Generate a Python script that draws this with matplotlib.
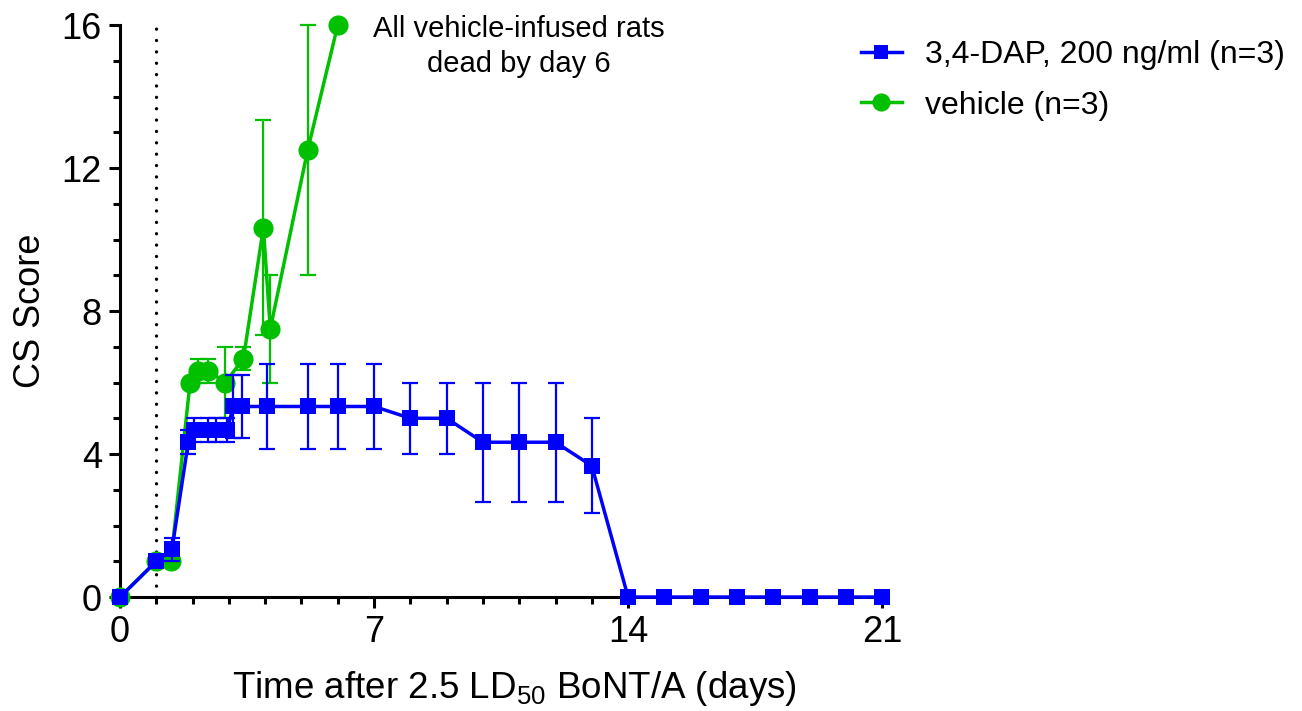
import matplotlib
matplotlib.use("Agg")
import matplotlib.pyplot as plt
import matplotlib.ticker as mticker
import numpy as np

plt.rcParams.update({
    "font.family": ["Liberation Sans", "DejaVu Sans"],
    "mathtext.fontset": "custom",
    "mathtext.rm": "Liberation Sans",
    "mathtext.it": "Liberation Sans:italic",
    "axes.linewidth": 2.2,
})

BLUE = "#0000ff"
GREEN = "#00c000"

# ── Data: CS score per group (mean ± error) ──────────────────────────────────
dap_days = [0, 1.0, 1.43, 1.88, 2.03, 2.43, 2.65, 2.95, 3.12, 3.37, 4.06, 5.17,
            6, 7, 8, 9, 10, 11, 12, 13, 14, 15, 16, 17, 18, 19, 20, 21]
dap_score = [0, 1.0, 1.33, 4.33, 4.67, 4.67, 4.67, 4.67, 5.33, 5.33, 5.33, 5.33,
             5.33, 5.33, 5.0, 5.0, 4.33, 4.33, 4.33, 3.67, 0, 0, 0, 0, 0, 0, 0, 0]
dap_err = [0, 0, 0.33, 0.33, 0.33, 0.33, 0.33, 0.33, 0.88, 0.88, 1.2, 1.2,
           1.2, 1.2, 1.0, 1.0, 1.67, 1.67, 1.67, 1.33, 0, 0, 0, 0, 0, 0, 0, 0]

veh_days = [0, 1.0, 1.4, 1.93, 2.15, 2.43, 2.9, 3.4, 3.95, 4.14, 5.17, 6.0]
veh_score = [0, 1.0, 1.0, 6.0, 6.33, 6.33, 6.0, 6.67, 10.33, 7.5, 12.5, 16.0]
veh_err = [0, 0, 0, 0, 0.33, 0.33, 1.0, 0.33, 3.0, 1.5, 3.5, 0]

dap_label = "3,4-DAP, 200 ng/ml (n=3)"
veh_label = "vehicle (n=3)"

fig = plt.figure(figsize=(13.02, 7.11), dpi=100)
ax = fig.add_axes([0.0922, 0.1603, 0.5853, 0.8045])


def _draw(ax, days, score, err, color, marker, ms, z):
    days = np.asarray(days)
    score = np.asarray(score)
    err = np.asarray(err)
    has = err > 0
    ax.errorbar(days[has], score[has], yerr=err[has], fmt="none",
                ecolor=color, elinewidth=1.6, capsize=5.5, capthick=1.6,
                zorder=z - 1, clip_on=False)
    line, = ax.plot(days, score, color=color, lw=2.5, marker=marker,
                    markersize=ms, markeredgewidth=0, zorder=z, clip_on=False)
    return line


# infusion start marker
ax.axvline(1.0, color="black", lw=2.4, linestyle=(0, (0.01, 3.4)),
           dash_capstyle="round", zorder=1)

h_veh = _draw(ax, veh_days, veh_score, veh_err, GREEN, "o", 14.5, 4)
h_dap = _draw(ax, dap_days, dap_score, dap_err, BLUE, "s", 11.5, 6)

ax.set_xlim(0, 21)
ax.set_ylim(0, 16)
ax.xaxis.set_major_locator(mticker.MultipleLocator(7))
ax.xaxis.set_minor_locator(mticker.MultipleLocator(1))
ax.yaxis.set_major_locator(mticker.MultipleLocator(4))
ax.yaxis.set_minor_locator(mticker.MultipleLocator(1))
ax.tick_params(which="major", length=8, width=2.2, labelsize=26, pad=5)
ax.tick_params(which="minor", length=5, width=2.2)
for s in ("top", "right"):
    ax.spines[s].set_visible(False)

ax.set_ylabel("CS Score", fontsize=26, labelpad=10)
ax.set_xlabel(r"Time after 2.5 LD$_{\mathregular{50}}$ BoNT/A (days)",
              fontsize=26.5)
ax.xaxis.set_label_coords(0.517, -0.125)

ax.text(11.0, 15.4, "All vehicle-infused rats\ndead by day 6",
        ha="center", va="center", fontsize=21, linespacing=1.3)

fig.legend([h_dap, h_veh], [dap_label, veh_label],
           loc="upper left", bbox_to_anchor=(0.661, 0.944),
           frameon=False, fontsize=23, handlelength=1.3, borderpad=0,
           borderaxespad=0, handletextpad=0.7, labelspacing=0.65,
           markerscale=0.9)

fig.savefig("out.png", dpi=100)
